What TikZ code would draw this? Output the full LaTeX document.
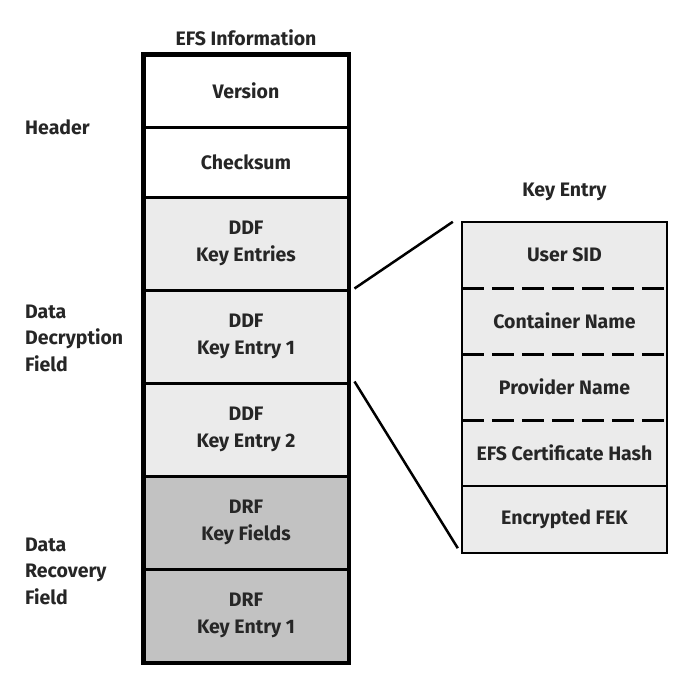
\documentclass[tikz,border=0pt]{standalone}
\usepackage{fontspec}
\setmainfont{Fira Sans}
\begin{document}
\begin{tikzpicture}[x=1pt,y=-1pt,
  every node/.style={font=\fontsize{19.5}{26.5}\selectfont\bfseries, text=black!85},
  cell/.style={draw=black, line width=3pt, minimum width=204pt, align=center, inner sep=0pt},
  kcell/.style={minimum width=205pt, align=center, inner sep=0pt},
  hdr/.style={fill=white},
  ddf/.style={fill=black!8},
  drf/.style={fill=black!24},
  lbl/.style={anchor=west, align=left, inner sep=0pt},
  sep/.style={line width=3pt, dash pattern=on 22pt off 8pt},
  conn/.style={line width=2.5pt}]
\useasboundingbox (0,0) rectangle (683,673);
\fill[white] (0,0) rectangle (683,673);
% left stack
\node[cell,hdr,minimum height=72pt] (ver) at (246,91) {Version};
\node[cell,hdr,minimum height=70pt] (chk) at (246,162) {Checksum};
\node[cell,ddf,minimum height=93pt] (ddfk) at (246,243.5) {DDF\\Key Entries};
\node[cell,ddf,minimum height=93pt] (ddf1) at (246,336.5) {DDF\\Key Entry 1};
\node[cell,ddf,minimum height=93pt] (ddf2) at (246,429.5) {DDF\\Key Entry 2};
\node[cell,drf,minimum height=93pt] (drfk) at (246,522.5) {DRF\\Key Fields};
\node[cell,drf,minimum height=93pt] (drf1) at (246,615.5) {DRF\\Key Entry 1};
\draw[line width=3.5pt] (ver.north west) rectangle (drf1.south east);
\node (efsi) at (246,38) {EFS Information};
% left labels
\node[lbl] (lhdr) at (25,127) {Header};
\node[lbl] (lddf) at (25,338) {Data\\Decryption\\Field};
\node[lbl] (ldrf) at (25,571) {Data\\Recovery\\Field};
% key entry box
\node (kent) at (564.5,192) {Key Entry};
\node[kcell,fill=black!8,minimum height=66pt] (uid) at (564.5,255) {User SID};
\node[kcell,fill=black!8,minimum height=66pt] (cont) at (564.5,321) {Container Name};
\node[kcell,fill=black!8,minimum height=66pt] (prov) at (564.5,387) {Provider Name};
\node[kcell,fill=black!8,minimum height=66pt] (hash) at (564.5,453) {EFS Certificate Hash};
\node[kcell,fill=black!8,minimum height=67pt] (fek) at (564.5,519.5) {Encrypted FEK};
\draw[sep] (uid.south west) -- (uid.south east);
\draw[sep] (cont.south west) -- (cont.south east);
\draw[sep] (prov.south west) -- (prov.south east);
\draw[line width=2.5pt] (hash.south west) -- (hash.south east);
\draw[line width=2pt] (uid.north west) rectangle (fek.south east);
% connectors
\draw[conn] ([xshift=5pt]ddf1.north east) -- ([xshift=-9pt]uid.north west);
\draw[conn] ([xshift=5pt]ddf2.north east) -- ([xshift=-4pt,yshift=5pt]fek.south west);
\end{tikzpicture}
\end{document}
